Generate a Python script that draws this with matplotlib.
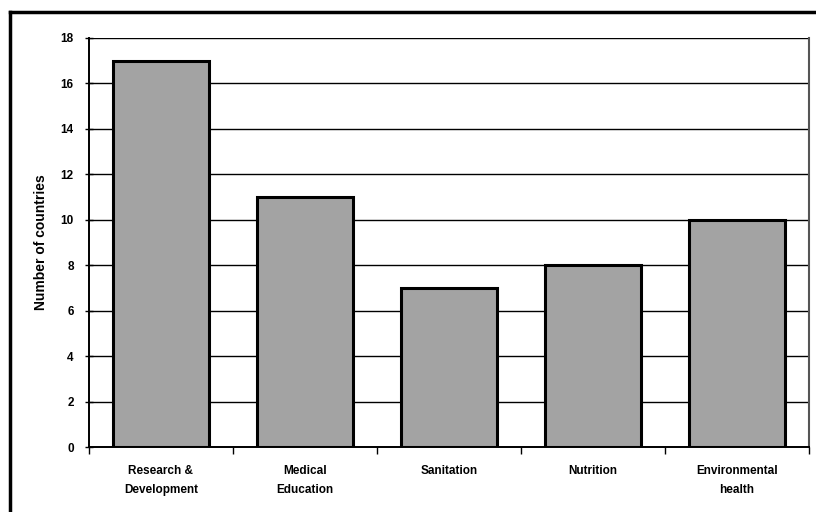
import matplotlib
matplotlib.use('Agg')
import matplotlib.pyplot as plt
from matplotlib.lines import Line2D
import numpy as np

categories = ["Research &\nDevelopment", "Medical\nEducation", "Sanitation",
              "Nutrition", "Environmental\nhealth"]
counts = [17, 11, 7, 8, 10]
y_ticks = [0, 2, 4, 6, 8, 10, 12, 14, 16, 18]

plt.rcParams['font.family'] = ['Liberation Sans', 'DejaVu Sans']

fig = plt.figure(figsize=(8.16, 5.12), dpi=100)
ax = fig.add_axes([89 / 816, 1 - 447 / 512, (809 - 89) / 816, (447 - 38) / 512])

x = np.arange(len(categories))
ax.bar(x, counts, width=0.67, color='#a3a3a3', edgecolor='black',
       linewidth=2.2, zorder=3)

ax.set_xlim(-0.5, len(categories) - 0.5)
ax.set_ylim(0, 18)
ax.set_yticks(y_ticks)
ax.set_yticklabels([str(t) for t in y_ticks], fontsize=8.5, fontweight='bold')
ax.yaxis.grid(True, color='black', linewidth=1.0, zorder=0)
ax.set_axisbelow(True)

# category labels sit between boundary ticks
ax.set_xticks(x)
ax.set_xticklabels(categories, fontsize=8.5, fontweight='bold', linespacing=1.8)
ax.tick_params(axis='x', length=0, pad=13)
ax.set_xticks(np.arange(-0.5, len(categories) + 0.5, 1), minor=True)
ax.tick_params(axis='x', which='minor', length=5, width=1, direction='out')
ax.tick_params(axis='y', length=6, width=1, direction='inout', pad=8)

ax.set_ylabel('Number of countries', fontsize=10, fontweight='bold', labelpad=9)

for side in ['left', 'bottom']:
    ax.spines[side].set_linewidth(1.4)
ax.spines['top'].set_visible(False)
ax.spines['right'].set_color('#555555')
ax.spines['right'].set_linewidth(1.5)

# outer frame around the chart
fig.add_artist(Line2D([10 / 816, 10 / 816], [0, 1 - 12 / 512],
                      transform=fig.transFigure, color='black', linewidth=2.5))
fig.add_artist(Line2D([10 / 816, 1], [1 - 12 / 512, 1 - 12 / 512],
                      transform=fig.transFigure, color='black', linewidth=2.5))

fig.savefig('out.png', dpi=100)
